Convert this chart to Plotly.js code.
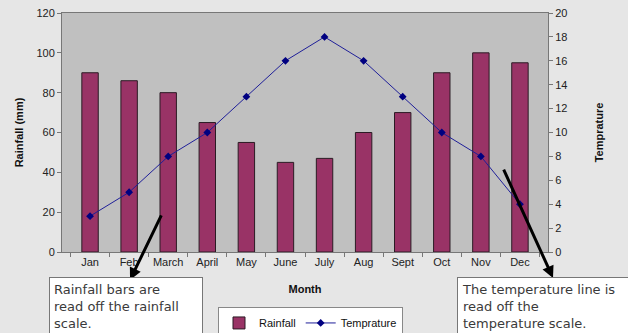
<!DOCTYPE html>
<html>
<head>
<meta charset="utf-8">
<script src="https://cdn.plot.ly/plotly-3.0.1.min.js"></script>
<style>html,body{margin:0;padding:0;background:#e6e6e6;}#chart{width:628px;height:333px;}</style>
</head>
<body>
<div id="chart"></div>
<script>
const months = ["Jan","Feb","March","April","May","June","July","Aug","Sept","Oct","Nov","Dec"];
const rainfall = [90, 86, 80, 65, 55, 45, 47, 60, 70, 90, 100, 95];
const temperature = [3, 5, 8, 10, 13, 16, 18, 16, 13, 10, 8, 4];
const rainTicks = [0, 20, 40, 60, 80, 100, 120];
const tempTicks = [0, 2, 4, 6, 8, 10, 12, 14, 16, 18, 20];

const traces = [
  {
    type: "bar", name: "Rainfall", x: months, y: rainfall,
    marker: {color: "#993366", line: {color: "#2b1b24", width: 1}},
    width: 0.42, yaxis: "y"
  },
  {
    type: "scatter", mode: "lines+markers", name: "Temprature", x: months, y: temperature,
    line: {color: "#1f1f99", width: 1},
    marker: {symbol: "diamond", size: 6, color: "#000080"},
    yaxis: "y2"
  }
];

const tickFont = {family: "Liberation Sans, Arial, sans-serif", size: 11, color: "#222"};
const titleFont = {family: "Liberation Sans, Arial, sans-serif", size: 11, color: "#111"};
const textFont = {family: "DejaVu Sans, sans-serif", size: 13, color: "#3a3a3a"};

const layout = {
  width: 628, height: 333,
  margin: {l: 62, r: 80, t: 13, b: 81, autoexpand: false},
  paper_bgcolor: "#e6e6e6",
  plot_bgcolor: "#c0c0c0",
  showlegend: true,
  legend: {
    orientation: "h", x: 0.321, y: -0.232, xanchor: "left", yanchor: "top",
    bgcolor: "#ffffff", bordercolor: "#888", borderwidth: 1,
    font: {family: "Liberation Sans, Arial, sans-serif", size: 11, color: "#111"},
    itemwidth: 30, tracegroupgap: 0
  },
  xaxis: {
    type: "category", tickson: "boundaries", ticks: "outside", ticklen: 4, tickcolor: "#777",
    showline: true, linecolor: "#777", mirror: true, showgrid: false, tickangle: 0, automargin: false,
    tickfont: tickFont,
    title: {text: "<b>Month</b>", font: titleFont, standoff: 18}
  },
  yaxis: {
    range: [0, 120], tickvals: rainTicks, ticks: "outside", ticklen: 4, tickcolor: "#777",
    showline: true, linecolor: "#777", showgrid: false, zeroline: false, automargin: false,
    tickfont: tickFont,
    title: {text: "<b>Rainfall (mm)</b>", font: titleFont, standoff: 10}
  },
  yaxis2: {
    overlaying: "y", side: "right", range: [0, 20], tickvals: tempTicks,
    ticks: "outside", ticklen: 4, tickcolor: "#777",
    showline: true, linecolor: "#777", showgrid: false, zeroline: false, automargin: false,
    tickfont: tickFont,
    title: {text: "<b>Temprature</b>", font: titleFont, standoff: 28}
  },
  annotations: [
    {
      xref: "paper", yref: "paper", x: 0.140, y: -0.117,
      showarrow: true, ax: 32, ay: -66, arrowhead: 2, arrowsize: 0.8, arrowwidth: 3, arrowcolor: "#000",
      text: ""
    },
    {
      xref: "paper", yref: "paper", x: 1.0103, y: -0.109,
      showarrow: true, ax: -50, ay: -110, arrowhead: 2, arrowsize: 0.8, arrowwidth: 3, arrowcolor: "#000",
      text: ""
    },
    {
      xref: "paper", yref: "paper", x: -0.0267, y: -0.1046, xanchor: "left", yanchor: "top",
      showarrow: false, align: "left", valign: "top",
      text: "Rainfall bars are<br>read off the rainfall<br>scale.",
      font: textFont, bgcolor: "#ffffff", bordercolor: "#777", borderwidth: 1, borderpad: 4,
      width: 144, height: 66
    },
    {
      xref: "paper", yref: "paper", x: 0.8128, y: -0.1046, xanchor: "left", yanchor: "top",
      showarrow: false, align: "left", valign: "top",
      text: "The temperature line is<br>read off the<br>temperature scale.",
      font: textFont, bgcolor: "#ffffff", bordercolor: "#777", borderwidth: 1, borderpad: 4,
      width: 175, height: 66
    }
  ]
};

Plotly.newPlot("chart", traces, layout, {displayModeBar: false, staticPlot: true});
</script>
</body>
</html>
